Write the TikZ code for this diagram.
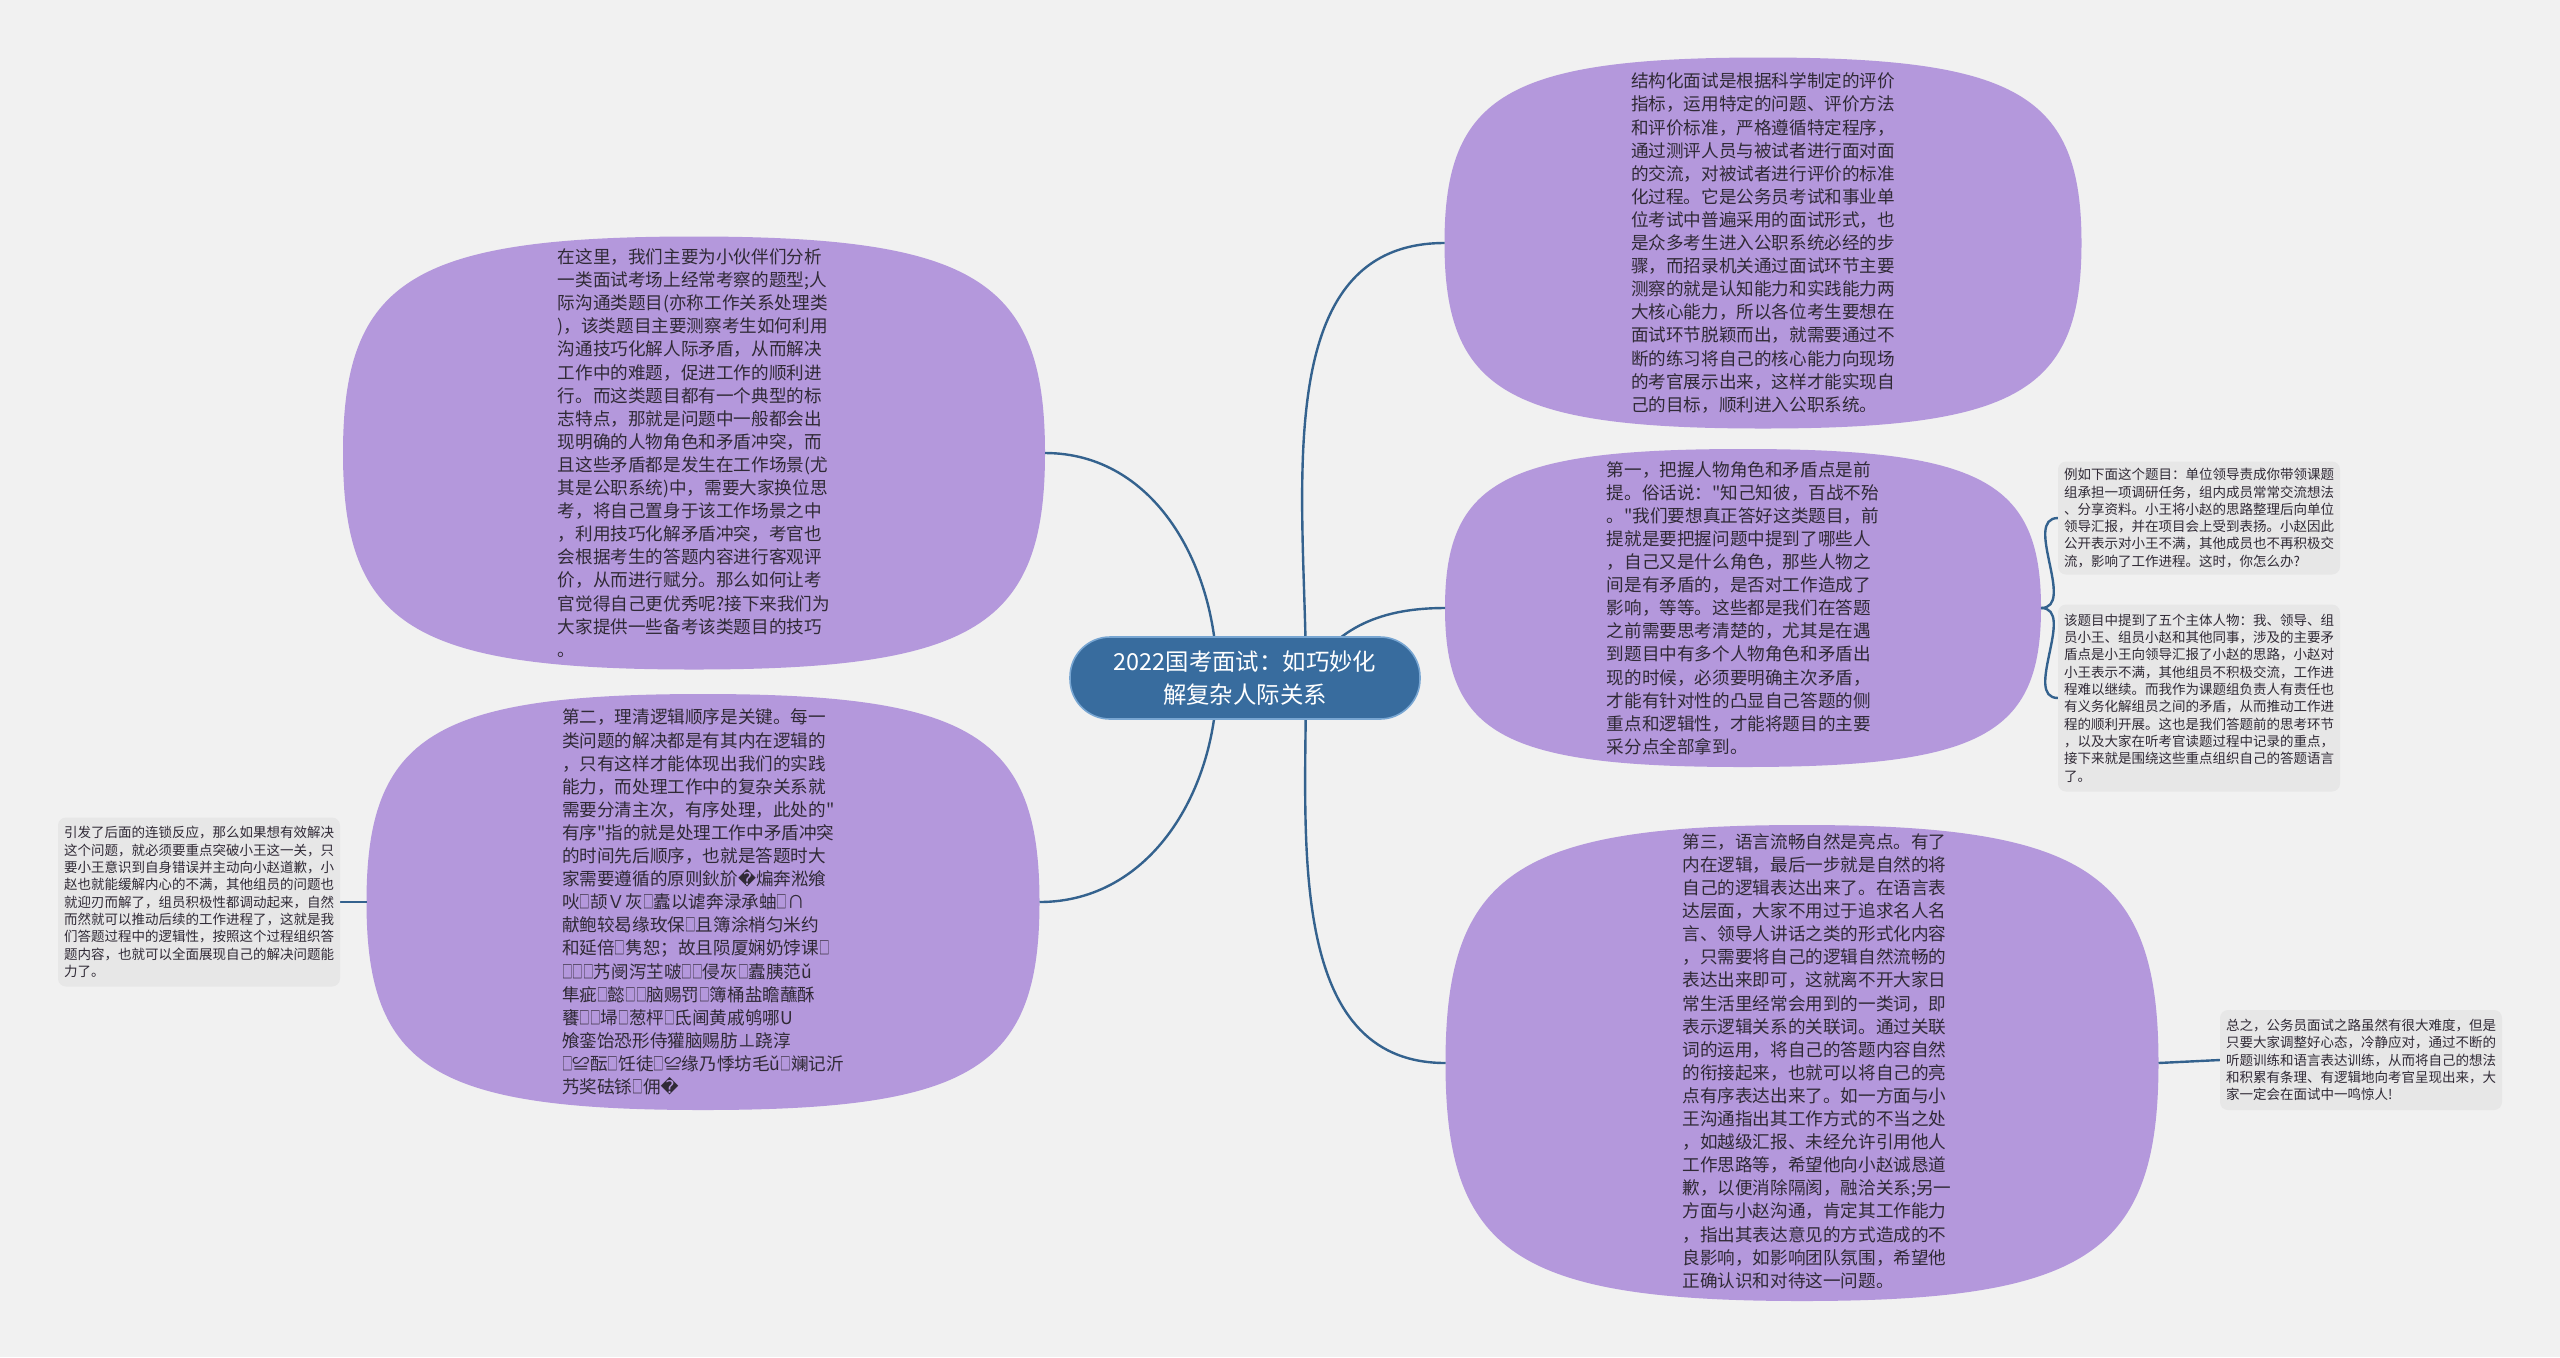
\documentclass[tikz,border=0pt]{standalone}
\usepackage{fontspec}
\usepackage{graphicx}
\setmainfont{Noto Sans CJK SC}
\newfontfamily\plainfont{Noto Sans CJK SC}
\newfontfamily\symfont{DejaVu Sans}
\usetikzlibrary{calc,backgrounds}

\definecolor{pagebg}{RGB}{241,241,241}
\definecolor{blobcol}{RGB}{180,152,220}
\definecolor{hubcol}{RGB}{56,108,158}
\definecolor{hubline}{RGB}{120,166,210}
\definecolor{linkcol}{RGB}{52,98,142}
\definecolor{notecol}{RGB}{231,231,231}
\definecolor{txtcol}{RGB}{48,42,54}

\newcommand\badchar{{\symfont\char"FFFD}}
\newcommand\tofu{\scalebox{0.6}[1]{□}}
\newcommand\dq{{\plainfont"}}
\newcommand\sq{0.8}
% squircle filled behind a blob node
\newcommand\blobfill[1]{%
  \fill[blobcol] (#1.east)
    .. controls ($(#1.east)!\sq!(#1.north east)$) and ($(#1.north)!\sq!(#1.north east)$) .. (#1.north)
    .. controls ($(#1.north)!\sq!(#1.north west)$) and ($(#1.west)!\sq!(#1.north west)$) .. (#1.west)
    .. controls ($(#1.west)!\sq!(#1.south west)$) and ($(#1.south)!\sq!(#1.south west)$) .. (#1.south)
    .. controls ($(#1.south)!\sq!(#1.south east)$) and ($(#1.east)!\sq!(#1.south east)$) .. (#1.east) -- cycle;}

\begin{document}
\begin{tikzpicture}[x=0.5pt,y=-0.5pt]
    \tikzstyle{blob}=[inner sep=0pt,outer sep=0pt,align=left,text=txtcol,font=\fontsize{8.8}{11.55}\selectfont]
    \tikzstyle{note}=[fill=notecol,rounded corners=4pt,inner sep=0pt,outer sep=0pt,minimum width=141pt,align=left,text=txtcol,font=\fontsize{6.75}{8.65}\selectfont]
    \tikzstyle{hub}=[fill=hubcol,draw=hubline,line width=0.8pt,rounded corners=20pt,minimum width=175pt,minimum height=41pt,align=center,text=white,font=\fontsize{11.7}{16.3}\selectfont]
    \tikzstyle{link}=[draw=linkcol,line width=1.2pt]

    \useasboundingbox (0,0) rectangle (2560,1357);

    \node[hub] at (1245,678) (hub) {2022国考面试：如巧妙化\\解复杂人际关系};

    \node[blob,minimum width=351pt,minimum height=216.5pt] at (694,453) (intro) {在这里，我们主要为小伙伴们分析\\一类面试考场上经常考察的题型;人\\际沟通类题目(亦称工作关系处理类\\)，该类题目主要测察考生如何利用\\沟通技巧化解人际矛盾，从而解决\\工作中的难题，促进工作的顺利进\\行。而这类题目都有一个典型的标\\志特点，那就是问题中一般都会出\\现明确的人物角色和矛盾冲突，而\\且这些矛盾都是发生在工作场景(尤\\其是公职系统)中，需要大家换位思\\考，将自己置身于该工作场景之中\\，利用技巧化解矛盾冲突，考官也\\会根据考生的答题内容进行客观评\\价，从而进行赋分。那么如何让考\\官觉得自己更优秀呢?接下来我们为\\大家提供一些备考该类题目的技巧\\。};

    \node[blob,minimum width=336.5pt,minimum height=208pt] at (703,902) (second) {第二，理清逻辑顺序是关键。每一\\类问题的解决都是有其内在逻辑的\\，只有这样才能体现出我们的实践\\能力，而处理工作中的复杂关系就\\需要分清主次，有序处理，此处的\dq\\有序\dq 指的就是处理工作中矛盾冲突\\的时间先后顺序，也就是答题时大\\家需要遵循的原则鈥斺\badchar 煸奔淞飨\\吙\tofu 颉Ｖ灰\tofu 蠹以谑奔渌承蚰\tofu ∩\\献鲍较曷缘玫保\tofu 且簿涂梢匀米约\\和延倍\tofu 隽恕；故且陨厦娴奶饽课\tofu\\\tofu\tofu\tofu 艿阌泻芏啵\tofu\tofu 侵灰\tofu 蠹胰范ǔ\\隼疵\tofu 懿\tofu\tofu 脑赐罚\tofu 簿桶盐瞻蘸酥\\饔\tofu\tofu 埽\tofu 葱枰\tofu 氐阃黄戚鸲哪U\\飧銮饴恐形侍獾脑赐肪⊥跷淳\\\tofu ≌酝\tofu 饪徒\tofu ≌缘乃悸坊毛ǔ\tofu 斓记沂\\艿奖砝铩\tofu 佣\badchar};

    \node[blob,minimum width=318.5pt,minimum height=185.5pt] at (1763,243) (define) {结构化面试是根据科学制定的评价\\指标，运用特定的问题、评价方法\\和评价标准，严格遵循特定程序，\\通过测评人员与被试者进行面对面\\的交流，对被试者进行评价的标准\\化过程。它是公务员考试和事业单\\位考试中普遍采用的面试形式，也\\是众多考生进入公职系统必经的步\\骤，而招录机关通过面试环节主要\\测察的就是认知能力和实践能力两\\大核心能力，所以各位考生要想在\\面试环节脱颖而出，就需要通过不\\断的练习将自己的核心能力向现场\\的考官展示出来，这样才能实现自\\己的目标，顺利进入公职系统。};

    \node[blob,minimum width=298pt,minimum height=159pt] at (1743,608) (first) {第一，把握人物角色和矛盾点是前\\提。俗话说：\dq 知己知彼，百战不殆\\。\dq 我们要想真正答好这类题目，前\\提就是要把握问题中提到了哪些人\\，自己又是什么角色，那些人物之\\间是有矛盾的，是否对工作造成了\\影响，等等。这些都是我们在答题\\之前需要思考清楚的，尤其是在遇\\到题目中有多个人物角色和矛盾出\\现的时候，必须要明确主次矛盾，\\才能有针对性的凸显自己答题的侧\\重点和逻辑性，才能将题目的主要\\采分点全部拿到。};

    \node[blob,minimum width=356.5pt,minimum height=238pt] at (1802,1063) (third) {};
    \node[blob] at ($(third.center)+(15,-2)$) (thirdtext) {第三，语言流畅自然是亮点。有了\\内在逻辑，最后一步就是自然的将\\自己的逻辑表达出来了。在语言表\\达层面，大家不用过于追求名人名\\言、领导人讲话之类的形式化内容\\，只需要将自己的逻辑自然流畅的\\表达出来即可，这就离不开大家日\\常生活里经常会用到的一类词，即\\表示逻辑关系的关联词。通过关联\\词的运用，将自己的答题内容自然\\的衔接起来，也就可以将自己的亮\\点有序表达出来了。如一方面与小\\王沟通指出其工作方式的不当之处\\，如越级汇报、未经允许引用他人\\工作思路等，希望他向小赵诚恳道\\歉，以便消除隔阂，融洽关系;另一\\方面与小赵沟通，肯定其工作能力\\，指出其表达意见的方式造成的不\\良影响，如影响团队氛围，希望他\\正确认识和对待这一问题。};

    \node[note,minimum height=56.5pt] at (2199,518) (example) {例如下面这个题目：单位领导责成你带领课题\\组承担一项调研任务，组内成员常常交流想法\\、分享资料。小王将小赵的思路整理后向单位\\领导汇报，并在项目会上受到表扬。小赵因此\\公开表示对小王不满，其他成员也不再积极交\\流，影响了工作进程。这时，你怎么办?};

    \node[note,minimum height=93.5pt] at (2199,698) (analysis) {该题目中提到了五个主体人物：我、领导、组\\员小王、组员小赵和其他同事，涉及的主要矛\\盾点是小王向领导汇报了小赵的思路，小赵对\\小王表示不满，其他组员不积极交流，工作进\\程难以继续。而我作为课题组负责人有责任也\\有义务化解组员之间的矛盾，从而推动工作进\\程的顺利开展。这也是我们答题前的思考环节\\，以及大家在听考官读题过程中记录的重点，\\接下来就是围绕这些重点组织自己的答题语言\\了。};

    \node[note,minimum height=50pt] at (2361,1060) (summary) {总之，公务员面试之路虽然有很大难度，但是\\只要大家调整好心态，冷静应对，通过不断的\\听题训练和语言表达训练，从而将自己的想法\\和积累有条理、有逻辑地向考官呈现出来，大\\家一定会在面试中一鸣惊人!};

    \node[note,minimum height=84.5pt] at (199,902) (chain) {引发了后面的连锁反应，那么如果想有效解决\\这个问题，就必须要重点突破小王这一关，只\\要小王意识到自身错误并主动向小赵道歉，小\\赵也就能缓解内心的不满，其他组员的问题也\\就迎刃而解了，组员积极性都调动起来，自然\\而然就可以推动后续的工作进程了，这就是我\\们答题过程中的逻辑性，按照这个过程组织答\\题内容，也就可以全面展现自己的解决问题能\\力了。};

    \coordinate (hubl) at (1217,678);
    \coordinate (hubr) at (1306,678);

    \begin{scope}[on background layer]
        \fill[pagebg] (0,0) rectangle (2560,1357);
        \foreach \b in {intro,second,define,first,third}
            \blobfill{\b};
        \draw[link] (intro.east) to[out=0,in=90] (hubl);
        \draw[link] (second.east) to[out=0,in=-90] (hubl);
        \draw[link] (define.west) to[out=180,in=90] (hubr);
        \draw[link] (first.west) to[out=180,in=60] (hubr);
        \draw[link] (third.west) to[out=180,in=-90] (hubr);
        \draw[link] (first.east) to[out=0,in=180] (example.west);
        \draw[link] (first.east) to[out=0,in=180] (analysis.west);
        \draw[link] (third.east) -- (summary.west);
        \draw[link] (second.west) -- (chain.east);
    \end{scope}
\end{tikzpicture}
\end{document}
